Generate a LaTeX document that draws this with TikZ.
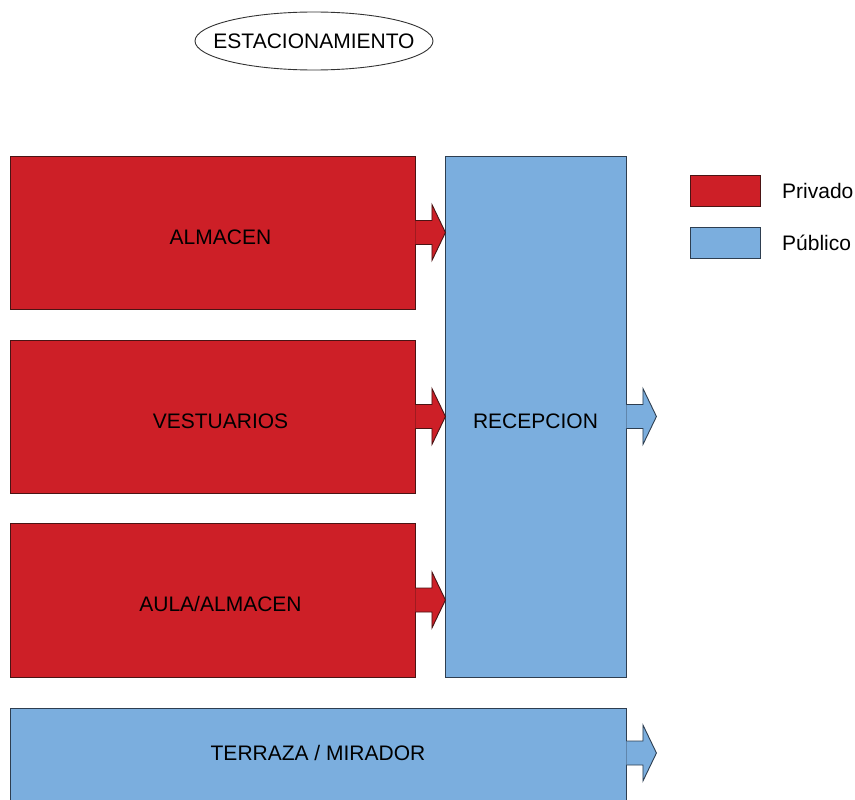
\documentclass[tikz,border=0pt]{standalone}
\usepackage{fontspec}
\setmainfont{Liberation Sans}
\usetikzlibrary{calc}
\definecolor{priv}{HTML}{CD1F27}
\definecolor{privline}{HTML}{4A1414}
\definecolor{pub}{HTML}{7BAEDE}
\definecolor{publine}{HTML}{2E3E50}
\newcommand{\blockarrow}[2]{%
  \draw[#2] ($(#1)+(0,-12)$) -- ++(16.5,0) -- ++(0,-16) -- ($(#1)+(30,0)$)
    -- ($(#1)+(16.5,28)$) -- ++(0,-16) -- ($(#1)+(0,12)$);}
\tikzset{
  privbox/.style={draw=privline, fill=priv, line width=0.9pt, inner sep=0, text=black, text height=23, text depth=0},
  pubbox/.style={draw=publine, fill=pub, line width=0.9pt, inner sep=0, text=black, text height=23, text depth=0},
  privarrow/.style={draw=privline, fill=priv, line width=0.9pt, line join=miter},
  pubarrow/.style={draw=publine, fill=pub, line width=0.9pt, line join=miter},
  lbl/.style={text=black, inner sep=0},
  boxlbl/.style={text=black, inner sep=0, text height=23, text depth=0, xshift=8pt},
}
\begin{document}
\begin{tikzpicture}[x=1pt,y=-1pt, font=\fontsize{21}{25}\selectfont]
\useasboundingbox (0,0) rectangle (855,800);
\clip (0,0) rectangle (855,800);
\node[lbl] (estac) at (314,41) {ESTACIONAMIENTO};
\draw[black!80, line width=0.9pt] (estac.center) ellipse (119 and 29);
\node[privbox, minimum width=405, minimum height=153, label={[boxlbl]center:ALMACEN}] (almacen) at (212.5,232.5) {};
\node[privbox, minimum width=405, minimum height=153, label={[boxlbl]center:VESTUARIOS}] (vest) at (212.5,416.5) {};
\node[privbox, minimum width=405, minimum height=154, label={[boxlbl]center:AULA/ALMACEN}] (aula) at (212.5,600) {};
\node[pubbox, minimum width=181, minimum height=521] (recep) at (535.5,416.5) {RECEPCION};
\node[pubbox, minimum width=616, minimum height=144] (terraza) at (318,780) {};
\node[lbl] (terrazatxt) at (318,753) {TERRAZA / MIRADOR};
\blockarrow{almacen.east}{privarrow}
\blockarrow{vest.east}{privarrow}
\blockarrow{aula.east}{privarrow}
\blockarrow{recep.east}{pubarrow}
\coordinate (terrazaout) at (terraza.east |- terrazatxt);
\blockarrow{terrazaout}{pubarrow}
\node[privbox, minimum width=70, minimum height=31] (legpriv) at (725,190.5) {};
\node[pubbox, minimum width=70, minimum height=31] (legpub) at (725,242.5) {};
\node[lbl, anchor=west] (legprivtxt) at (782,190.5) {Privado};
\node[lbl, anchor=west] (legpubtxt) at (782,242.5) {Público};
\end{tikzpicture}
\end{document}
